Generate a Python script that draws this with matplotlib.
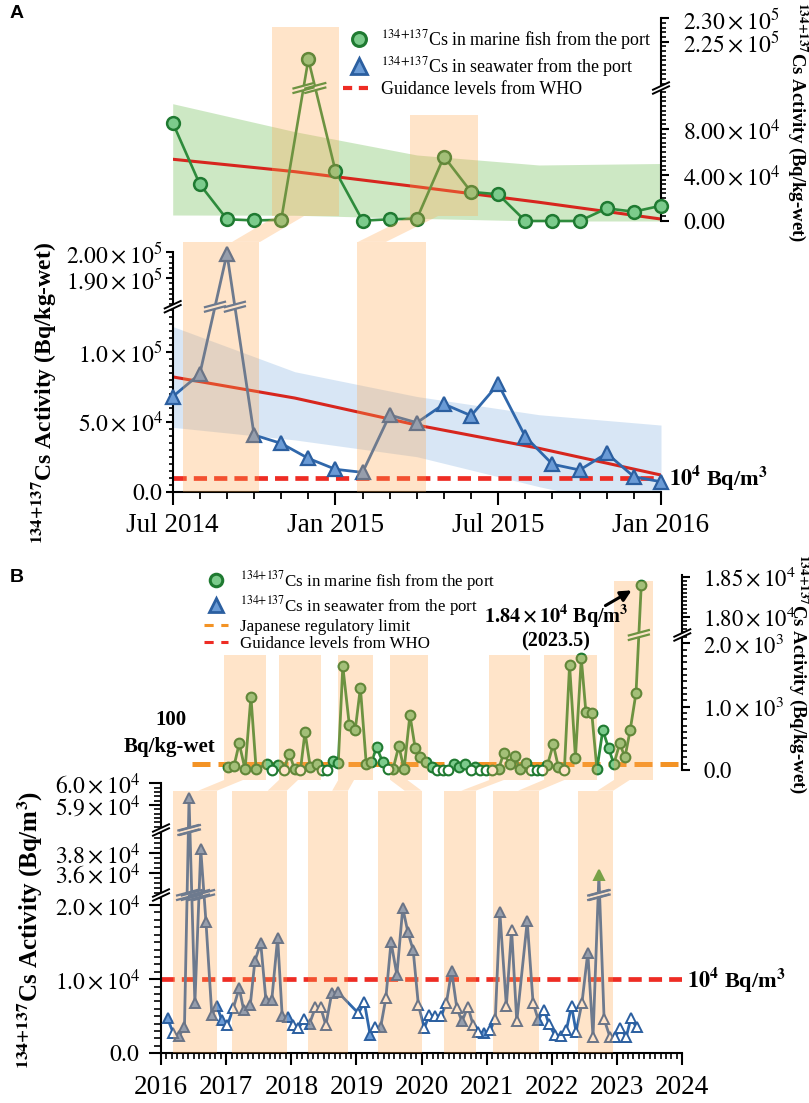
import numpy as np
import matplotlib
matplotlib.use('Agg')
import matplotlib.pyplot as plt
from matplotlib.lines import Line2D
from matplotlib.patches import Polygon, FancyArrowPatch
from matplotlib.ticker import FixedLocator, FixedFormatter, NullFormatter

plt.rcParams['font.family'] = ['Liberation Serif', 'DejaVu Serif']
plt.rcParams['mathtext.fontset'] = 'stix'

# ======================= DATA =======================
# ---- Panel A : monthly, index 0 = Jul 2014 ... 18 = Jan 2016
months_A = list(range(19))
xticks_A = [0, 6, 12, 18]
xlabels_A = ['Jul 2014', 'Jan 2015', 'Jul 2015', 'Jan 2016']
fish_A = [85500, 31900, 1500, 500, 1000, 221200, 43500, 300, 1500, 2000,
          56000, 25300, 23200, 0, 0, 0, 11000, 8100, 13300]
sea_A = [67900, 84100, 199500, 40500, 34500, 23800, 16000, 13800, 54800, 49300,
         62600, 54300, 76900, 39300, 19600, 15500, 27400, 10700, 7100]
fit_t_A = [0, 4.5, 9, 13.5, 18]
fish_fit_A = [53700, 42900, 29800, 16300, 1700]
fish_hi_A = [102000, 77700, 57400, 48700, 50000]
fish_lo_A = [5200, 5000, 2300, 0, 0]
sea_fit_A = [82000, 66900, 47600, 31000, 11900]
sea_hi_A = [118000, 85700, 68000, 55000, 47600]
sea_lo_A = [46000, 37000, 25000, 3600, -15000]
bands_sea_A = [(0.37, 3.19), (6.81, 9.32)]
bands_fish_A = [(3.65, 6.13), (8.74, 11.24)]
bands_fish_A_top = [228200, 92000]
who_limit = 1e4
jp_limit = 100

# ---- Panel B : seawater (decimal year, Bq/m3, marker kind f=filled o=open g=green)
sea_B_t = ([2016.10, 2016.19, 2016.28, 2016.36, 2016.43, 2016.52, 2016.61, 2016.69, 2016.78, 2016.86, 2016.93]
           + [2017.02, 2017.11, 2017.20, 2017.27, 2017.37, 2017.44, 2017.53, 2017.61, 2017.70, 2017.79, 2017.86, 2017.95]
           + [2018.02, 2018.11, 2018.20, 2018.28, 2018.37, 2018.45, 2018.53, 2018.62, 2018.71]
           + [2019.03, 2019.12, 2019.21, 2019.29, 2019.37, 2019.45, 2019.53, 2019.62, 2019.71, 2019.79, 2019.87, 2019.95]
           + [2020.04, 2020.12, 2020.21, 2020.30, 2020.38, 2020.46, 2020.54, 2020.62, 2020.71, 2020.79, 2020.87, 2020.96]
           + [2021.05, 2021.13, 2021.20, 2021.30, 2021.38, 2021.46, 2021.62, 2021.71, 2021.79, 2021.88, 2021.95]
           + [2022.04, 2022.14, 2022.22, 2022.30, 2022.37, 2022.46, 2022.55, 2022.63, 2022.72, 2022.80, 2022.89, 2022.97]
           + [2023.05, 2023.14, 2023.21, 2023.30])
sea_B_v = ([4700, 2700, 2400, 3500, 59300, 6750, 38400, 17760, 5200, 6400, 4500]
           + [3800, 6100, 8800, 5800, 6500, 12400, 14900, 7200, 7200, 15600, 5000, 4900]
           + [3800, 3400, 4600, 4000, 6200, 6200, 3800, 8100, 8300]
           + [5400, 6900, 2500, 3500, 3500, 7400, 15000, 10600, 19600, 16300, 13900, 6500]
           + [3400, 5200, 5000, 5000, 6800, 11100, 6100, 4300, 6300, 3800, 2900, 2700]
           + [3100, 4600, 19000, 6400, 16700, 4300, 17800, 6800, 4500, 5900, 4000]
           + [2500, 2400, 3100, 6400, 2900, 6800, 13600, 2200, 35800, 4600, 2200, 2200]
           + [3400, 2200, 4700, 3500])
sea_B_kind = ('fofffffffff' + 'ooffffffffff' + 'ooofoooff' + 'oofofofffffo'
              + 'ooooofofooof' + 'oofooofofoo' + 'oooooofogooo' + 'oooo')

# ---- Panel B : fish (decimal year, Bq/kg-wet)
fish_B_t = ([2017.03, 2017.12, 2017.20, 2017.29, 2017.38, 2017.46, 2017.62, 2017.71, 2017.80, 2017.88, 2017.97]
            + [2018.05, 2018.14, 2018.21, 2018.29, 2018.39, 2018.47, 2018.55, 2018.64, 2018.72, 2018.79, 2018.89, 2018.98]
            + [2019.06, 2019.15, 2019.23, 2019.31, 2019.40, 2019.48, 2019.56, 2019.65, 2019.73, 2019.82, 2019.90, 2019.98]
            + [2020.07, 2020.16, 2020.24, 2020.33, 2020.41, 2020.49, 2020.58, 2020.67, 2020.76, 2020.82, 2020.90, 2020.99]
            + [2021.08, 2021.18, 2021.26, 2021.35, 2021.43, 2021.51, 2021.60, 2021.68, 2021.77, 2021.85, 2021.93]
            + [2022.02, 2022.10, 2022.19, 2022.27, 2022.36, 2022.45, 2022.52, 2022.61, 2022.69, 2022.78, 2022.87, 2022.95]
            + [2023.04, 2023.12, 2023.20, 2023.29, 2023.37])
fish_B_v = ([40, 60, 420, 10, 1160, 10, 95, 0, 80, 0, 260]
            + [10, 0, 600, 50, 95, 0, 0, 150, 105, 1640, 710, 630]
            + [1300, 95, 130, 360, 130, 10, 10, 380, 10, 870, 350, 200]
            + [130, 40, 0, 0, 0, 95, 40, 95, 0, 50, 0, 0]
            + [0, 10, 270, 95, 220, 10, 105, 0, 0, 0, 80]
            + [405, 40, 0, 1660, 195, 1765, 920, 905, 10, 630, 340, 95]
            + [420, 200, 630, 1220, 18400])
fish_B_kind = ('fffffffofof' + 'fofffoofffff' + 'fffffoffffff' + 'ffooofffofoo'
               + 'offffffooof' + 'ffofffffffff' + 'fffff')

bands_sea_B = [(2016.19, 2016.86), (2017.09, 2017.93), (2018.25, 2018.87), (2019.33, 2020.00),
               (2020.34, 2020.83), (2021.09, 2021.80), (2022.40, 2022.94)]
bands_fish_B = [(2016.97, 2017.61), (2017.81, 2018.46), (2018.72, 2019.26), (2019.52, 2020.10),
                (2021.04, 2021.67), (2021.87, 2022.69), (2022.95, 2023.55)]
bands_fish_B_top = [1817, 1817, 1817, 1817, 1817, 1817, 18457]
years_B = list(range(2016, 2025))

assert len(sea_B_t) == len(sea_B_v) == len(sea_B_kind)
assert len(fish_B_t) == len(fish_B_v) == len(fish_B_kind)

# ======================= STYLE =======================
W, H = 809, 1103
C_FISH_LINE = '#2e8b3c'
C_FISH_FACE = '#7ccb8c'
C_FISH_EDGE = '#1f7a31'
C_SEA_LINE = '#2f67ab'
C_SEA_FACE = '#6a9bd6'
C_SEA_EDGE = '#2b5fa0'
C_GREEN_TRI = '#3f9f45'
C_TREND = '#d7261e'
C_WHO = '#ee2c24'
C_JP = '#f39325'
C_BAND = '#ffa64d'
BAND_ALPHA = 0.3
C_GREEN_CI = '#9dd28a'
C_BLUE_CI = '#a9c9ea'
SUP = r'$^{\mathbf{134{+}137}}$'
SUPN = r'$^{134{+}137}$'


def pw_scale(v_knots, p_knots):
    v = np.asarray(v_knots, float)
    p = np.asarray(p_knots, float)

    def mk(a, b):
        s0 = (b[1] - b[0]) / (a[1] - a[0])
        s1 = (b[-1] - b[-2]) / (a[-1] - a[-2])

        def f(x):
            x = np.asarray(x, float)
            y = np.interp(x, a, b)
            y = np.where(x < a[0], b[0] + (x - a[0]) * s0, y)
            y = np.where(x > a[-1], b[-1] + (x - a[-1]) * s1, y)
            return y
        return f
    return mk(v, p), mk(p, v)


def rect(l, t, r, b):
    return [l / W, 1 - b / H, (r - l) / W, (b - t) / H]


def mathlab(s):
    return r'$\mathrm{' + s + '}$'


fig = plt.figure(figsize=(W / 100, H / 100), dpi=100)

axAl = fig.add_axes(rect(172.7, 241.9, 661, 491.7))
axAh = fig.add_axes(rect(172.7, 18.25, 661, 226))
axBl = fig.add_axes(rect(161, 783.3, 682.3, 1053.3))
axBh = fig.add_axes(rect(161, 574.9, 682.3, 780))

gapA_lo = (132140, 179080)
gapA_hi = (115650, 215100)
gapB_lo = [(21360, 33830), (40330, 57850)]
gapB_hi = (2133, 17768)

axAl.set_yscale('function', functions=pw_scale([0, 132140, 179080, 204000], [0, 185, 185.02, 249.81]))
axAh.set_yscale('function', functions=pw_scale([0, 115650, 215100, 230000], [0, 133, 133.02, 202.75]))
axBl.set_yscale('function', functions=pw_scale([0, 21360, 33830, 40330, 57850, 60000],
                                               [0, 158.3, 158.32, 223.32, 223.34, 270.0]))
axBh.set_yscale('function', functions=pw_scale([0, 2133, 17768, 18530], [0, 135, 135.02, 195.1]))

axAl.set_xlim(0, 18); axAl.set_ylim(0, 204000)
axAh.set_xlim(0, 18); axAh.set_ylim(-4348, 230000)
axBl.set_xlim(2016, 2024); axBl.set_ylim(0, 60000)
axBh.set_xlim(2016, 2024); axBh.set_ylim(-158, 18530)

for ax in (axAl, axAh, axBl, axBh):
    ax.set_facecolor('none')
    for s in ax.spines.values():
        s.set_linewidth(1.5)

# ---------------- Panel A lower (seawater) ----------------
ax = axAl
ax.fill_between(fit_t_A, sea_lo_A, sea_hi_A, color=C_BLUE_CI, alpha=0.45, lw=0, zorder=1)
ax.plot(fit_t_A, sea_fit_A, color=C_TREND, lw=2.2, zorder=2)
ax.axhline(who_limit, color=C_WHO, lw=3.4, ls=(0, (2.8, 1.5)), zorder=2.5)
ax.plot(months_A, sea_A, color=C_SEA_LINE, lw=2.0, marker='^', ms=10, mfc=C_SEA_FACE,
        mec=C_SEA_EDGE, mew=1.6, zorder=3, clip_on=False)
for x0, x1 in bands_sea_A:
    ax.fill_between([x0, x1], [0, 0], [204000, 204000], color=C_BAND, alpha=BAND_ALPHA, lw=0, zorder=5)
ax.spines['top'].set_visible(False)
ax.spines['right'].set_visible(False)
ax.spines['left'].set_bounds(0, 200000)
ax.yaxis.set_major_locator(FixedLocator([0, 50000, 100000, 190000, 200000]))
ax.yaxis.set_major_formatter(FixedFormatter([mathlab('0.0'), mathlab(r'5.0\times10^{4}'),
                                             mathlab(r'1.0\times10^{5}'), mathlab(r'1.90\times10^{5}'),
                                             mathlab(r'2.00\times10^{5}')]))
ax.yaxis.set_minor_locator(FixedLocator(list(np.arange(0, 132001, 5000)) + list(np.arange(180000, 200001, 2000))))
ax.yaxis.set_minor_formatter(NullFormatter())
ax.xaxis.set_major_locator(FixedLocator(xticks_A))
ax.xaxis.set_major_formatter(FixedFormatter(xlabels_A))
ax.xaxis.set_minor_locator(FixedLocator(months_A))
ax.tick_params(axis='y', which='major', length=5, width=1.5, pad=2, labelsize=17)
ax.tick_params(axis='y', which='minor', length=3, width=1.2)
ax.tick_params(axis='x', which='major', length=9.4, width=1.5, pad=6, labelsize=19.5)
ax.tick_params(axis='x', which='minor', length=4.8, width=1.3)

# ---------------- Panel A upper (fish) ----------------
ax = axAh
ax.fill_between(fit_t_A, fish_lo_A, fish_hi_A, color=C_GREEN_CI, alpha=0.5, lw=0, zorder=1)
ax.plot(fit_t_A, fish_fit_A, color=C_TREND, lw=2.2, zorder=2)
ax.plot(months_A, fish_A, color=C_FISH_LINE, lw=1.9, marker='o', ms=9.2, mfc=C_FISH_FACE,
        mec=C_FISH_EDGE, mew=1.8, zorder=3, clip_on=False)
for (x0, x1), top in zip(bands_fish_A, bands_fish_A_top):
    ax.fill_between([x0, x1], [4300, 4300], [top, top], color=C_BAND, alpha=BAND_ALPHA, lw=0, zorder=5)
for s in ('top', 'left', 'bottom'):
    ax.spines[s].set_visible(False)
ax.spines['right'].set_bounds(0, 230000)
ax.xaxis.set_visible(False)
ax.yaxis.tick_right()
ax.yaxis.set_major_locator(FixedLocator([0, 40000, 80000, 225000, 230000]))
ax.yaxis.set_major_formatter(FixedFormatter([mathlab('0.00'), mathlab(r'4.00\times10^{4}'),
                                             mathlab(r'8.00\times10^{4}'), mathlab(r'2.25\times10^{5}'),
                                             mathlab(r'2.30\times10^{5}')]))
ax.yaxis.set_minor_locator(FixedLocator(list(np.arange(0, 114001, 4000)) + list(np.arange(216000, 230001, 1000))))
ax.yaxis.set_minor_formatter(NullFormatter())
ax.tick_params(axis='y', which='major', length=6, width=1.5, pad=10, labelsize=17)
ax.tick_params(axis='y', which='minor', length=3.5, width=1.2)

leg_handles_A = [Line2D([], [], ls='none', marker='o', ms=10, mfc=C_FISH_FACE, mec=C_FISH_EDGE, mew=2.2),
                 Line2D([], [], ls='none', marker='^', ms=11, mfc=C_SEA_FACE, mec=C_SEA_EDGE, mew=2.0),
                 Line2D([], [], color=C_WHO, lw=3, ls=(0, (2.2, 1.6)))]
leg_labels_A = [SUPN + 'Cs in marine fish from the port',
                SUPN + 'Cs in seawater from the port',
                'Guidance levels from WHO']
legA = ax.legend(leg_handles_A, leg_labels_A, loc='upper left', bbox_to_anchor=(343 / W, 1 - 28 / H),
                 bbox_transform=fig.transFigure, frameon=False, fontsize=12.9, handlelength=1.75,
                 handletextpad=0.35, labelspacing=0.15, borderpad=0, borderaxespad=0)
legA.set_zorder(10)

# ---------------- Panel B lower (seawater) ----------------
ax = axBl
ax.axhline(who_limit, color=C_WHO, lw=3.4, ls=(0, (2.8, 1.5)), zorder=2.5)
ax.plot(sea_B_t, sea_B_v, color=C_SEA_LINE, lw=2.0, zorder=3)
kind_face = {'f': C_SEA_FACE, 'o': 'white', 'g': C_GREEN_TRI}
kind_edge = {'f': C_SEA_EDGE, 'o': C_SEA_EDGE, 'g': C_GREEN_TRI}
for kd in 'fog':
    xs = [t for t, k in zip(sea_B_t, sea_B_kind) if k == kd]
    ys = [v for v, k in zip(sea_B_v, sea_B_kind) if k == kd]
    ax.plot(xs, ys, ls='none', marker='^', ms=7.5, mfc=kind_face[kd], mec=kind_edge[kd], mew=1.4,
            zorder=3.2, clip_on=False)
for x0, x1 in bands_sea_B:
    ax.fill_between([x0, x1], [0, 0], [59660, 59660], color=C_BAND, alpha=BAND_ALPHA, lw=0, zorder=5)
ax.spines['top'].set_visible(False)
ax.spines['right'].set_visible(False)
ax.yaxis.set_major_locator(FixedLocator([0, 10000, 20000, 36000, 38000, 59000, 60000]))
ax.yaxis.set_major_formatter(FixedFormatter([mathlab('0.0'), mathlab(r'1.0\times10^{4}'),
                                             mathlab(r'2.0\times10^{4}'), mathlab(r'3.6\times10^{4}'),
                                             mathlab(r'3.8\times10^{4}'), mathlab(r'5.9\times10^{4}'),
                                             mathlab(r'6.0\times10^{4}')]))
ax.yaxis.set_minor_locator(FixedLocator(list(np.arange(0, 21001, 1000)) + list(np.arange(34000, 40001, 500))
                                        + list(np.arange(58000, 60001, 200))))
ax.yaxis.set_minor_formatter(NullFormatter())
ax.xaxis.set_major_locator(FixedLocator(years_B))
ax.xaxis.set_major_formatter(FixedFormatter([str(y) for y in years_B]))
ax.xaxis.set_minor_locator(FixedLocator(list(np.arange(2016, 2024.001, 1 / 12))))
ax.xaxis.set_minor_formatter(NullFormatter())
ax.tick_params(axis='y', which='major', length=9, width=1.5, pad=6, labelsize=17)
ax.tick_params(axis='y', which='minor', length=5, width=1.2)
ax.tick_params(axis='x', which='major', length=8.5, width=1.5, pad=7, labelsize=19.5)
ax.tick_params(axis='x', which='minor', length=4.5, width=1.2)

# ---------------- Panel B upper (fish) ----------------
ax = axBh
ax.axhline(jp_limit, xmin=(2016.47 - 2016) / 8, xmax=1, color=C_JP, lw=3.6, ls=(0, (3.6, 1.6)), zorder=2.5)
ax.plot(fish_B_t, fish_B_v, color=C_FISH_LINE, lw=2.0, zorder=3)
fkind_face = {'f': C_FISH_FACE, 'o': 'white'}
for kd in 'fo':
    xs = [t for t, k in zip(fish_B_t, fish_B_kind) if k == kd]
    ys = [v for v, k in zip(fish_B_v, fish_B_kind) if k == kd]
    ax.plot(xs, ys, ls='none', marker='o', ms=7, mfc=fkind_face[kd], mec=C_FISH_EDGE, mew=1.5,
            zorder=3.2, clip_on=False)
for (x0, x1), top in zip(bands_fish_B, bands_fish_B_top):
    ax.fill_between([x0, x1], [-158, -158], [top, top], color=C_BAND, alpha=BAND_ALPHA, lw=0, zorder=5)
for s in ('top', 'left', 'bottom'):
    ax.spines[s].set_visible(False)
ax.spines['right'].set_bounds(0, 18530)
ax.xaxis.set_visible(False)
ax.yaxis.tick_right()
ax.yaxis.set_major_locator(FixedLocator([0, 1000, 2000, 18000, 18500]))
ax.yaxis.set_major_formatter(FixedFormatter([mathlab('0.0'), mathlab(r'1.0\times10^{3}'),
                                             mathlab(r'2.0\times10^{3}'), mathlab(r'1.80\times10^{4}'),
                                             mathlab(r'1.85\times10^{4}')]))
ax.yaxis.set_minor_locator(FixedLocator(list(np.arange(0, 2101, 100)) + list(np.arange(17800, 18531, 50))))
ax.yaxis.set_minor_formatter(NullFormatter())
ax.tick_params(axis='y', which='major', length=6, width=1.5, pad=9, labelsize=16.3)
ax.tick_params(axis='y', which='minor', length=3.5, width=1.2)

leg_handles_B = [Line2D([], [], ls='none', marker='o', ms=9, mfc=C_FISH_FACE, mec=C_FISH_EDGE, mew=2.2),
                 Line2D([], [], ls='none', marker='^', ms=10, mfc=C_SEA_FACE, mec=C_SEA_EDGE, mew=2.0),
                 Line2D([], [], color=C_JP, lw=2.2, ls=(0, (3, 2.5))),
                 Line2D([], [], color=C_WHO, lw=2.2, ls=(0, (3, 2.5)))]
leg_labels_B = [SUPN + 'Cs in marine fish from the port',
                SUPN + 'Cs in seawater from the port',
                'Japanese regulatory limit',
                'Guidance levels from WHO']
legB = ax.legend(leg_handles_B, leg_labels_B, loc='upper left', bbox_to_anchor=(204 / W, 1 - 569 / H),
                 bbox_transform=fig.transFigure, frameon=False, fontsize=12.2, handlelength=1.4,
                 handletextpad=0.75, labelspacing=0.05, borderpad=0, borderaxespad=0)
legB.set_zorder(10)

# ---------------- break marks ----------------
inv = fig.transFigure.inverted()


def brk(ax, xd, yd, half=11, sep=4.5, ang=18, color='k', lw=1.4, z=4):
    t = np.tan(np.radians(ang))
    dx, dy, s = half, half * t, sep / 2
    lo = [(xd - dx, yd - dy - s), (xd + dx, yd + dy - s)]
    hi = [(xd - dx, yd - dy + s), (xd + dx, yd + dy + s)]
    poly = inv.transform(np.array(lo + hi[::-1]))
    ax.add_patch(Polygon(poly, closed=True, facecolor='white', edgecolor='none',
                         transform=fig.transFigure, clip_on=False, zorder=z))
    for pts in (lo, hi):
        p = inv.transform(np.array(pts))
        ax.add_line(Line2D(p[:, 0], p[:, 1], color=color, lw=lw, transform=fig.transFigure,
                           clip_on=False, zorder=z + 0.1))


def line_breaks(ax, t, v, gap, color):
    glo, ghi = gap
    ygap = ax.transData.transform((t[0], glo))[1]
    for i in range(len(t) - 1):
        a, b = v[i], v[i + 1]
        if (a < glo and b > ghi) or (a > ghi and b < glo):
            p1 = ax.transData.transform((t[i], a))
            p2 = ax.transData.transform((t[i + 1], b))
            f = (ygap - p1[1]) / (p2[1] - p1[1])
            brk(ax, p1[0] + f * (p2[0] - p1[0]), ygap, half=10, ang=15, color=color, lw=1.6)


def spine_break(ax, gap, side):
    xs = ax.transAxes.transform((0 if side == 'left' else 1, 0))[0]
    ygap = ax.transData.transform((ax.get_xlim()[0], gap[0]))[1]
    brk(ax, xs, ygap, half=8, ang=25, sep=4, color='k', lw=1.4)


line_breaks(axAl, months_A, sea_A, gapA_lo, C_SEA_LINE)
spine_break(axAl, gapA_lo, 'left')
line_breaks(axAh, months_A, fish_A, gapA_hi, C_FISH_LINE)
spine_break(axAh, gapA_hi, 'right')
for g in gapB_lo:
    line_breaks(axBl, sea_B_t, sea_B_v, g, C_SEA_LINE)
    spine_break(axBl, g, 'left')
line_breaks(axBh, fish_B_t, fish_B_v, gapB_hi, C_FISH_LINE)
spine_break(axBh, gapB_hi, 'right')


# ---------------- connectors between band groups ----------------
def add_conn(ax_lo, xlo, ylo, ax_hi, xhi, yhi, w):
    p1 = ax_lo.transData.transform((xlo, ylo))
    p2 = ax_hi.transData.transform((xhi, yhi))
    pts = np.array([(p1[0], p1[1]), (p1[0] + w, p1[1]), (p2[0] + w, p2[1]), (p2[0], p2[1])])
    fig.add_artist(Polygon(inv.transform(pts), closed=True, facecolor=C_BAND, alpha=BAND_ALPHA,
                           edgecolor='none', transform=fig.transFigure, zorder=1))


# panel A connectors (start of connector on the lower / upper band, months)
conn_A = [(2.19, 3.81), (6.83, 8.75)]
for xlo, xhi in conn_A:
    add_conn(axAl, xlo, 204000, axAh, xhi, 4300, 28)

# panel B connectors: from right part of lower band to left part of upper band
for (a0, a1), (b0, b1) in zip(bands_sea_B, bands_fish_B):
    wpx = 0.45 * min(a1 - a0, b1 - b0) * 65.15
    xlo = a1 - wpx / 65.15
    add_conn(axBl, xlo, 59660, axBh, b0, -158, wpx)

# ---------------- texts ----------------
fig.text(17 / W, 1 - 13 / H, 'A', fontsize=14, fontweight='bold', family='Liberation Sans', ha='center', va='center')
fig.text(17 / W, 1 - 577 / H, 'B', fontsize=14, fontweight='bold', family='Liberation Sans', ha='center', va='center')

fig.text(44 / W, 1 - 393 / H, SUP + 'Cs Activity (Bq/kg-wet)', rotation=90, fontsize=17,
         fontweight='bold', ha='center', va='center')
fig.text(798 / W, 1 - 122 / H, SUP + 'Cs Activity (Bq/kg-wet)', rotation=270, fontsize=13.5,
         fontweight='bold', ha='center', va='center')
fig.text(30 / W, 1 - 930 / H, SUP + r'Cs Activity (Bq/m$^{\mathbf{3}}$)', rotation=90, fontsize=18,
         fontweight='bold', ha='center', va='center')
fig.text(799 / W, 1 - 674 / H, SUP + 'Cs Activity (Bq/kg-wet)', rotation=270, fontsize=13.5,
         fontweight='bold', ha='center', va='center')

fig.text(669 / W, 1 - 478 / H, r'$\mathbf{10^{4}}$ Bq/m$^{\mathbf{3}}$', fontsize=16, fontweight='bold',
         ha='left', va='center')
fig.text(687 / W, 1 - 979 / H, r'$\mathbf{10^{4}}$ Bq/m$^{\mathbf{3}}$', fontsize=16, fontweight='bold',
         ha='left', va='center')
fig.text(556 / W, 1 - 616 / H, r'$\mathbf{1.84\times10^{4}}$ Bq/m$^{\mathbf{3}}$', fontsize=14.5,
         fontweight='bold', ha='center', va='center', zorder=12)
fig.text(556 / W, 1 - 641 / H, '(2023.5)', fontsize=14.5, fontweight='bold', ha='center', va='center', zorder=12)
fig.text(171 / W, 1 - 720 / H, '100', fontsize=15, fontweight='bold', ha='center', va='center')
fig.text(170 / W, 1 - 747 / H, 'Bq/kg-wet', fontsize=15, fontweight='bold', ha='center', va='center')
fig.add_artist(FancyArrowPatch((603 / W, 1 - 607 / H), (634 / W, 1 - 589 / H), transform=fig.transFigure,
                               arrowstyle='-|>', mutation_scale=16, lw=2.2, color='k', zorder=12))

fig.savefig('out.png', dpi=100)
